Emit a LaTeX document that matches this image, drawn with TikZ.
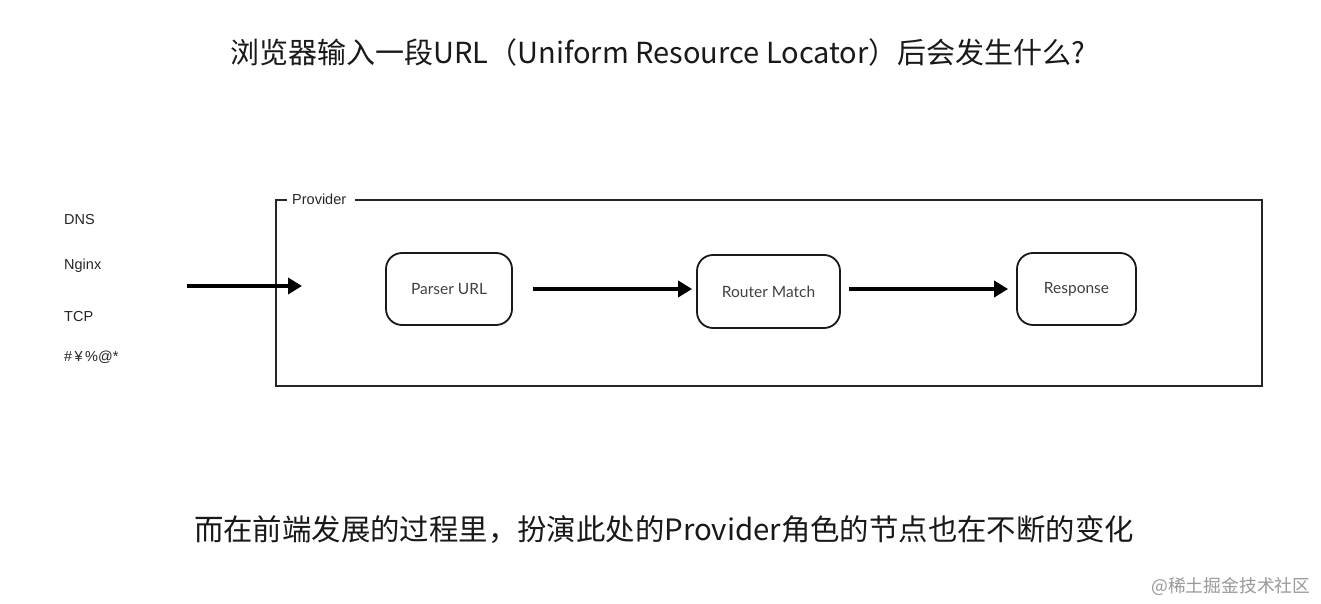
\documentclass[tikz,border=0pt]{standalone}
\usepackage{fontspec}
\setmainfont{Liberation Sans}
\newfontfamily\cjk{Noto Sans CJK SC}
\newfontfamily\boxfont{Lato}
\usetikzlibrary{arrows.meta}
\tikzset{
  stepbox/.style={draw=black!90, line width=1.8pt, rounded corners=16pt, font=\boxfont\fontsize{15.5}{18}\selectfont, text=black!75},
  side/.style={anchor=west, inner sep=0pt, font=\fontsize{14.5}{17}\selectfont, text=black!85},
  flow/.style={line width=3.6pt, -{Triangle[length=14pt,width=16pt]}},
}
\begin{document}
\begin{tikzpicture}[x=1pt,y=-1pt]
\useasboundingbox[fill=white] (0,0) rectangle (1321,604);
\node[font=\cjk\fontsize{29}{33}\selectfont, text=black!90] (title) at (658,52) {浏览器输入一段URL（Uniform Resource Locator）后会发生什么?};
% provider frame
\coordinate (fa) at (287,200);
\coordinate (fb) at (355,200);
\draw[line width=2.4pt, black!85] (fa) -- (276,200) -- (276,386) -- (1262,386) -- (1262,200) -- (fb);
\node[anchor=west, font=\fontsize{14.5}{17}\selectfont, text=black!85, inner sep=0pt] (prov) at (292,199) {Provider};
% side labels
\node[side] (dns) at (64,220) {DNS};
\node[side] (nginx) at (64,266) {Nginx};
\node[side] (tcp) at (64,317) {TCP};
\node[side] (sym) at (64,357) {\#\,¥\,\%@*};
% boxes
\node[stepbox, minimum width=126pt, minimum height=72pt] (parser) at (449,289) {Parser URL};
\node[stepbox, minimum width=143pt, minimum height=73pt] (router) at (768.5,291.5) {Router Match};
\node[stepbox, minimum width=119pt, minimum height=72pt] (resp) at (1076.5,289) {Response};
% arrows
\coordinate (in0) at (187,286);
\coordinate (in1) at (302,286);
\draw[flow] (in0) -- (in1);
\draw[flow] ([xshift=20pt]parser.east) -- ([xshift=-4pt]router.west |- parser.east);
\draw[flow] ([xshift=8pt]router.east |- 0,289) -- ([xshift=-8pt]resp.west);
% bottom text
\node[font=\cjk\fontsize{29.4}{33}\selectfont, text=black!90] (bottom) at (664,530) {而在前端发展的过程里，扮演此处的Provider角色的节点也在不断的变化};
\node[anchor=east, font=\cjk\fontsize{17.8}{20}\selectfont, text=black!40] (wm) at (1314,586) {@稀土掘金技术社区};
\end{tikzpicture}
\end{document}
